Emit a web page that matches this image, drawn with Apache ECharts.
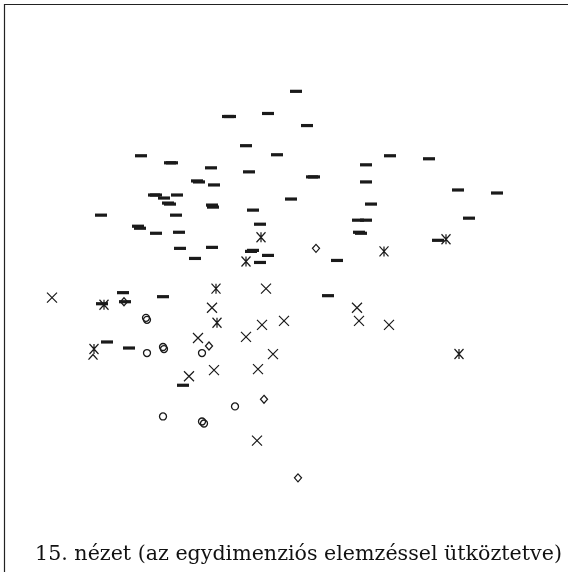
<!DOCTYPE html>
<html>
<head>
<meta charset="utf-8">
<script src="https://cdn.jsdelivr.net/npm/echarts@6/dist/echarts.min.js"></script>
<style>
  html, body { margin: 0; padding: 0; background: #fff; }
  #chart { width: 568px; height: 572px; }
</style>
</head>
<body>
<div id="chart"></div>
<script>
// Point configuration of the 15th view, one array per marker group.
const dashPoints = [
  [0.12, 1.76], [-0.56, 1.51], [-0.54, 1.51], [-0.16, 1.54], [0.23, 1.42],
  [-0.38, 1.22], [-0.07, 1.13], [-1.43, 1.12], [-1.14, 1.05], [-1.12, 1.05],
  [-0.73, 1.00], [-0.35, 0.96], [0.82, 1.03], [1.06, 1.12], [1.45, 1.09],
  [-0.87, 0.87], [-0.85, 0.86], [-0.70, 0.83], [0.28, 0.91], [0.30, 0.91],
  [0.82, 0.86], [-1.30, 0.73], [-1.28, 0.73], [-1.20, 0.70], [-1.07, 0.73],
  [-1.16, 0.65], [-1.14, 0.64], [-0.72, 0.63], [-0.71, 0.61], [0.07, 0.69],
  [1.74, 0.78], [2.13, 0.75], [-1.83, 0.53], [-1.08, 0.53], [-0.31, 0.58],
  [0.87, 0.64], [1.85, 0.50], [-1.46, 0.42], [-1.44, 0.40], [-1.28, 0.35],
  [-1.05, 0.36], [-0.24, 0.44], [0.74, 0.48], [0.82, 0.48], [0.75, 0.36],
  [0.77, 0.35], [-1.04, 0.20], [-0.72, 0.21], [-0.89, 0.10], [-0.33, 0.17],
  [-0.31, 0.18], [-0.16, 0.13], [-0.24, 0.06], [0.53, 0.08], [1.54, 0.28],
  [-1.61, -0.24], [-1.21, -0.28], [0.44, -0.27], [-1.59, -0.33], [-1.82, -0.35],
  [-1.77, -0.73], [-1.55, -0.79], [-1.01, -1.16]
];

const starPoints = [
  [-0.23, 0.31], [-0.38, 0.07], [1.00, 0.17], [1.62, 0.29], [-0.68, -0.20],
  [-1.80, -0.36], [-0.67, -0.54], [-1.90, -0.80], [1.75, -0.85]
];

const crossPoints = [
  [-2.32, -0.29], [-0.18, -0.20], [-0.72, -0.39], [0.73, -0.39], [0.75, -0.52],
  [1.05, -0.56], [0.00, -0.52], [-0.22, -0.56], [-0.86, -0.69], [-0.38, -0.68],
  [-0.11, -0.85], [-0.26, -1.00], [-0.70, -1.01], [-0.95, -1.07], [-0.27, -1.71]
];

// A single marker just below the lower-left asterisk, only its upper half is inked.
const caretPoints = [
  [-1.91, -0.88]
];

const circlePoints = [
  [-1.38, -0.49], [-1.37, -0.51], [-1.37, -0.84], [-1.21, -0.78], [-1.20, -0.80],
  [-0.82, -0.84], [-1.21, -1.47], [-0.49, -1.37], [-0.82, -1.52], [-0.80, -1.54]
];

const diamondPoints = [
  [0.32, 0.20], [-1.60, -0.33], [-0.75, -0.77], [-0.20, -1.30], [0.14, -2.08]
];

const captionText = '15. nézet (az egydimenziós elemzéssel ütköztetve)';

const ink = '#1a1a1a';

const chart = echarts.init(document.getElementById('chart'), null, { renderer: 'canvas' });

function strokeSeries(name, data, symbol, size, width) {
  return {
    name: name,
    type: 'scatter',
    data: data,
    symbol: symbol,
    symbolSize: size,
    itemStyle: { color: 'rgba(0,0,0,0)', borderColor: ink, borderWidth: width, opacity: 1 },
    emphasis: { disabled: true },
    silent: true
  };
}

chart.setOption({
  backgroundColor: '#ffffff',
  animation: false,
  grid: { left: 24, width: 520, top: 40, height: 457 },
  xAxis: { type: 'value', min: -2.6, max: 2.6, show: false },
  yAxis: { type: 'value', min: -2.27, max: 2.27, show: false },
  series: [
    {
      name: 'dash',
      type: 'scatter',
      data: dashPoints,
      symbol: 'rect',
      symbolSize: [12, 3.2],
      itemStyle: { color: ink, opacity: 1 },
      emphasis: { disabled: true },
      silent: true
    },
    strokeSeries('cross', crossPoints, 'path://M0,0 L10,10 M10,0 L0,10', [10, 10], 1.2),
    strokeSeries('star', starPoints, 'path://M0,0 L10,10 M10,0 L0,10 M5,0 L5,10', [9, 10], 1.3),
    strokeSeries('caret', caretPoints, 'path://M0,5 L5,0 L10,5', [9, 5], 1.2),
    strokeSeries('circle', circlePoints, 'circle', 7, 1.3),
    strokeSeries('diamond', diamondPoints, 'path://M5,0 L10,5 L5,10 L0,5 Z', [7, 8], 1.3)
  ],
  graphic: [
    {
      type: 'rect',
      silent: true,
      shape: { x: 4.5, y: 4.5, width: 620, height: 620 },
      style: { fill: 'none', stroke: '#222', lineWidth: 1.2 }
    },
    {
      type: 'text',
      silent: true,
      x: 298.5,
      y: 555,
      style: {
        text: captionText,
        fill: '#111',
        font: '20.6px "DejaVu Serif"',
        textAlign: 'center',
        textVerticalAlign: 'middle'
      }
    }
  ]
});
</script>
</body>
</html>
